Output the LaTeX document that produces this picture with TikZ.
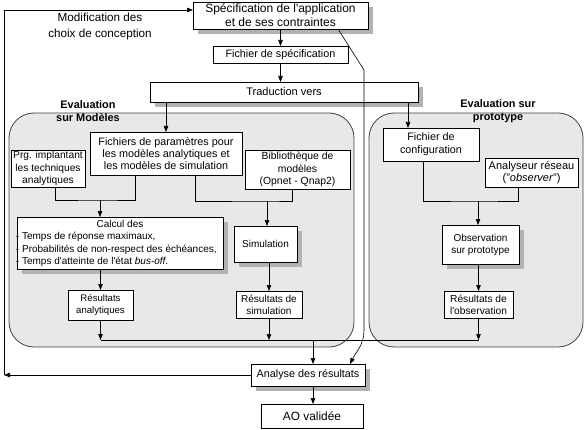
\documentclass[tikz,border=0pt]{standalone}
\usepackage{fontspec}
\setmainfont{Liberation Sans}
\usetikzlibrary{arrows.meta,shadows,calc}
\begin{document}
\begin{tikzpicture}[x=1pt,y=-1pt,
  every node/.style={inner sep=0pt, outer sep=0pt},
  box/.style={draw=black, line width=0.7pt, fill=white, align=center, font=\fontsize{10}{12}\selectfont},
  shbox/.style={box, drop shadow={shadow xshift=5pt, shadow yshift=-5pt, opacity=1, fill=gray!60}},
  region/.style={draw=black!75, line width=0.8pt, fill=gray!18, rounded corners=25pt},
  arr/.style={-{Triangle[length=6pt,width=4.5pt]}, line width=0.6pt},
  ln/.style={line width=0.6pt},
  title/.style={font=\bfseries\fontsize{10.9}{13}\selectfont, align=center}]
\useasboundingbox (0,0) rectangle (585,430);

% regions
\draw[region] (9,113) rectangle (354,347);
\draw[region] (369,113) rectangle (583,347);
\node[title] (t1) at (88,111.5) {Evaluation\\sur Modèles};
\node[title] (t2) at (498,111.5) {Evaluation sur\\prototype};

% top
\node[font=\fontsize{11.7}{16}\selectfont, align=center] (mod) at (100,26) {Modification des\\choix de conception};
\node[shbox, font=\fontsize{12}{14}\selectfont, minimum width=175pt, minimum height=27pt] (spec) at (280.5,15.5) {Spécification de l\textquotesingle application\\et de ses contraintes};
\node[box, font=\fontsize{10.8}{12}\selectfont, minimum width=135pt, minimum height=17pt] (fspec) at (280.5,54.5) {Fichier de spécification};
\node[shbox, font=\fontsize{11}{13}\selectfont, minimum width=268pt, minimum height=20pt] (trad) at (284,92) {Traduction vers};

% left region
\node[box, font=\fontsize{10.2}{12.5}\selectfont, minimum width=74pt, minimum height=37pt] (prg) at (48,168.5) {Prg. implantant\\les techniques\\analytiques};
\node[box, font=\fontsize{10.8}{12.3}\selectfont, minimum width=152pt, minimum height=43pt] (fpar) at (166,153.5) {Fichiers de paramètres pour\\les modèles analytiques et\\les modèles de simulation};
\node[box, font=\fontsize{10.4}{12.3}\selectfont, minimum width=105pt, minimum height=39pt] (bib) at (297.5,169.5) {Bibliothèque de\\modèles\\(Opnet - Qnap2)};
\node[shbox, minimum width=206pt, minimum height=52pt] (calc) at (120,243) {};
\node[font=\fontsize{10}{12}\selectfont] (calct) at (120,224) {Calcul des};
\node[font=\fontsize{10}{12.5}\selectfont, align=left, anchor=west] (calcl) at (16,249.5) {- Temps de réponse maximaux,\\- Probabilités de non-respect des échéances,\\- Temps d\textquotesingle atteinte de l\textquotesingle état \textit{bus-off}.};
\node[shbox, minimum width=63pt, minimum height=36pt] (sim) at (265.5,244) {Simulation};
\node[box, font=\fontsize{9.6}{12}\selectfont, minimum width=65pt, minimum height=30pt] (rana) at (100.5,305) {Résultats\\analytiques};
\node[box, minimum width=66pt, minimum height=27pt] (rsim) at (269,304.5) {Résultats de\\simulation};

% right region
\node[box, font=\fontsize{10.8}{13}\selectfont, minimum width=96pt, minimum height=33pt] (fconf) at (431,144.5) {Fichier de\\configuration};
\node[box, font=\fontsize{11}{12.5}\selectfont, minimum width=93pt, minimum height=29pt] (anal) at (531.5,172.5) {Analyseur réseau\\("\textit{observer}")};
\node[shbox, minimum width=77pt, minimum height=39pt] (obs) at (480.5,244.5) {Observation\\sur prototype};
\node[box, font=\fontsize{10.2}{12}\selectfont, minimum width=69pt, minimum height=27pt] (robs) at (478.5,304.5) {Résultats de\\l\textquotesingle observation};

% bottom
\node[shbox, font=\fontsize{10.8}{12}\selectfont, minimum width=114pt, minimum height=22pt] (ana) at (308,375) {Analyse des résultats};
\node[box, font=\fontsize{11.9}{13}\selectfont, minimum width=102pt, minimum height=24pt] (ao) at (312,416) {AO validée};

% connectors top
\draw[arr] (spec.south) -- (fspec.north);
\draw[arr] (fspec.south) -- (fspec.south |- trad.north);
\draw[arr] (fpar.north |- trad.south) -- (fpar.north);
\draw[arr] ([xshift=-23pt]fconf.north |- trad.south) -- ([xshift=-23pt]fconf.north);

% left merges
\coordinate (ml) at (100,200);
\draw[ln] ([xshift=7pt]prg.south) |- (ml) -| ([xshift=-31pt]fpar.south);
\draw[arr] (ml) -- (ml |- calc.north);
\coordinate (mr) at (267,201);
\draw[ln] ([xshift=29pt]fpar.south) |- (mr) -| ([xshift=-5.5pt]bib.south);
\draw[arr] (mr) -- (mr |- sim.north);
\draw[arr] (calc.south -| rana.north) -- (rana.north);
\draw[arr] (rsim.north |- sim.south) -- (rsim.north);

% right merges
\coordinate (mp) at (478,201);
\draw[ln] ([xshift=-8pt]fconf.south) |- (mp) -| ([xshift=-13.5pt]anal.south);
\draw[arr] (mp) -- (mp |- obs.north);
\draw[arr] (robs.north |- obs.south) -- (robs.north);

% collector
\coordinate (cl) at (313,340);
\draw[ln] (rana.south |- cl) -- (robs.south |- cl);
\draw[arr] (rana.south) -- (rana.south |- cl);
\draw[arr] (rsim.south) -- (rsim.south |- cl);
\draw[arr] (robs.south) -- (robs.south |- cl);
\draw[arr] (cl) -- (cl |- ana.north);
\draw[arr] (cl |- ana.south) -- (cl |- ao.north);

% spec to analyse
\draw[arr] ([xshift=57.5pt]spec.south) -- (364,70) -- (364,330) .. controls (364,345) and (356,352) .. ([xshift=42pt]ana.north);

% feedback
\coordinate (fb) at (4,375);
\draw[arr] (ana.west) -- (fb);
\draw[arr] (fb) |- ([yshift=5.5pt]spec.west);
\end{tikzpicture}
\end{document}
